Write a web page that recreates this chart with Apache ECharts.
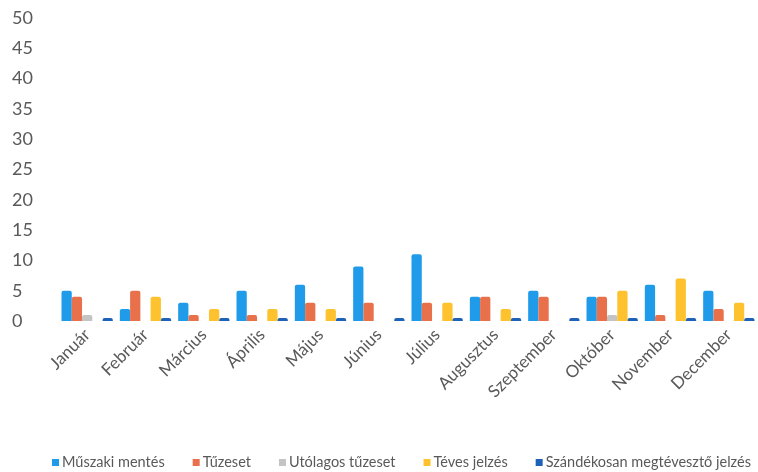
<!DOCTYPE html>
<html><head><meta charset="utf-8">
<script src="https://cdn.jsdelivr.net/npm/echarts@6/dist/echarts.min.js"></script>
<style>html,body{margin:0;padding:0;background:#fff}#c{width:758px;height:472px}</style>
</head><body><div id="c"></div>
<script>
const categories = ['Január','Február','Március','Április','Május','Június','Július','Augusztus','Szeptember','Október','November','December'];
const muszakiMentes = [5,2,3,5,6,9,11,4,5,4,6,5];
const tuzeset = [4,5,1,1,3,3,3,4,4,4,1,2];
const utolagosTuzeset = [1,0,0,0,0,0,0,0,0,1,0,0];
const tevesJelzes = [0,4,2,2,2,0,3,2,0,5,7,3];
const szandekosan = [0,0,0,0,0,0,0,0,0,0,0,0];
const yTicks = [0,5,10,15,20,25,30,35,40,45,50];

const font = 'Lato, "Open Sans", sans-serif';
const mk = (name, data, color, minH) => ({
  name, type: 'bar', data, barGap: '0%', barCategoryGap: '12%', barMinHeight: minH,
  itemStyle: { color, borderRadius: [2,2,0,0] }
});
const chart = echarts.init(document.getElementById('c'));
chart.setOption({
  animation: false,
  grid: { left: 58, right: 0, top: 18, bottom: 151 },
  legend: {
    bottom: 2, left: 52, width: 706, padding: 0, itemWidth: 7, itemHeight: 7, itemGap: 28, icon: 'rect',
    textStyle: { fontFamily: font, fontSize: 14.5, color: '#595959', padding: [0,0,0,-2] }
  },
  xAxis: {
    type: 'category', data: categories,
    axisLine: { show: false }, axisTick: { show: false },
    axisLabel: { rotate: 45, interval: 0, fontFamily: font, fontSize: 17, color: '#595959', margin: 11 }
  },
  yAxis: {
    type: 'value', min: yTicks[0], max: yTicks[yTicks.length-1], interval: 5,
    splitLine: { show: false }, axisLine: { show: false }, axisTick: { show: false },
    axisLabel: { fontFamily: font, fontSize: 18, color: '#595959', margin: 46, align: 'left',
      formatter: v => yTicks.includes(v) ? String(v) : '' }
  },
  series: [
    mk('Műszaki mentés', muszakiMentes, '#1f9bea', 0),
    mk('Tűzeset', tuzeset, '#e8704a', 0),
    mk('Utólagos tűzeset', utolagosTuzeset, '#c4c4c4', 0),
    mk('Téves jelzés', tevesJelzes, '#fdc22e', 0),
    mk('Szándékosan megtévesztő jelzés', szandekosan, '#1e62b8', 3)
  ]
});
</script></body></html>
